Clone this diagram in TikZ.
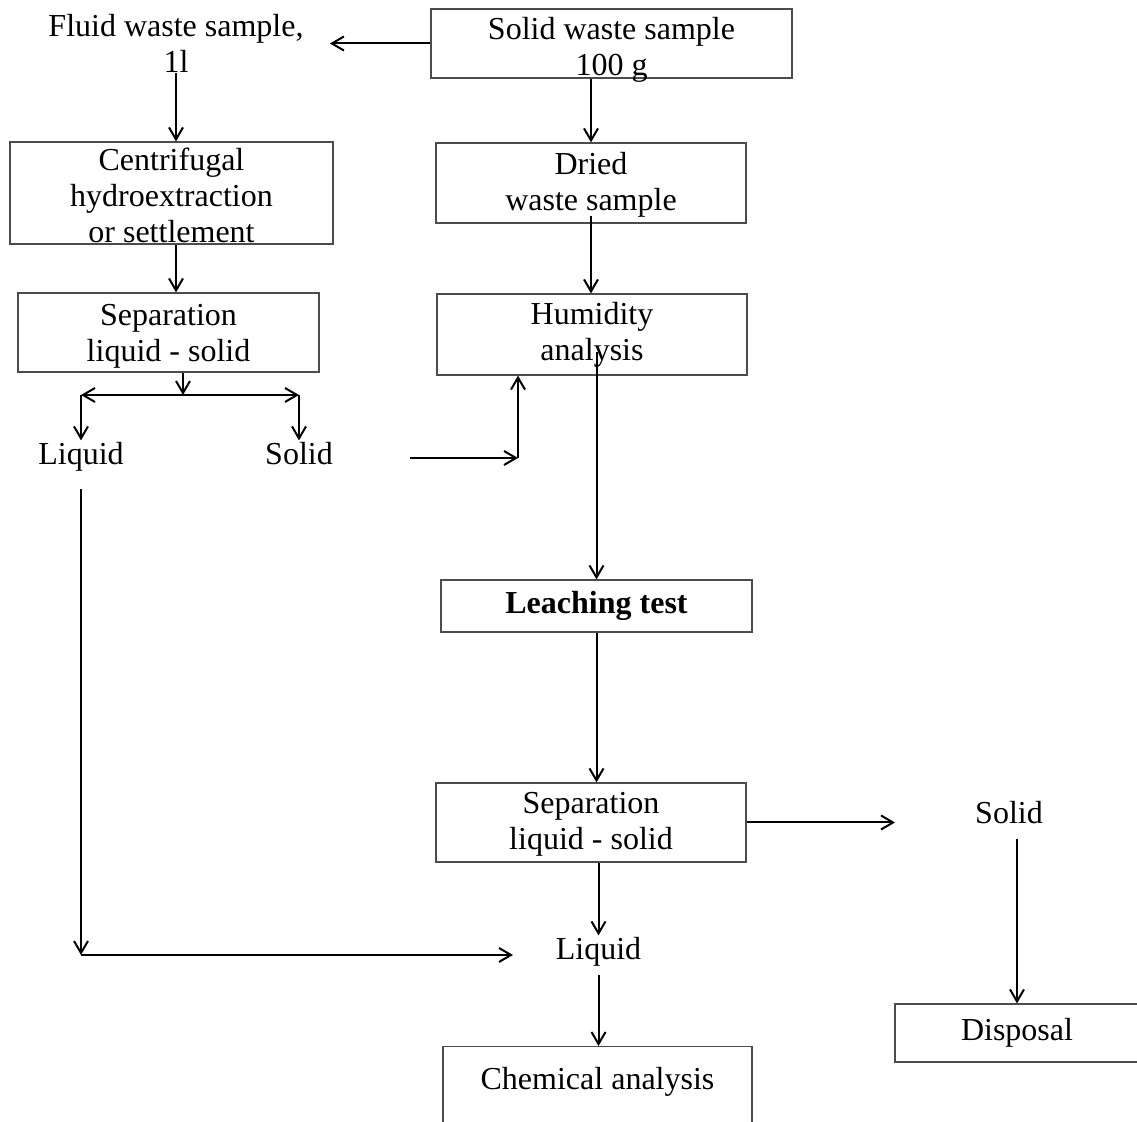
\documentclass[tikz,border=0pt]{standalone}
\usepackage{fontspec}
\setmainfont{Liberation Serif}
\usetikzlibrary{arrows.meta,calc}
\newcommand{\topgap}[1]{\rule{0pt}{#1}}

\begin{document}
\begin{tikzpicture}[x=0.5pt,y=-0.5pt,
  font=\fontsize{16}{18}\selectfont,
  box/.style={draw=black!70,line width=0.6pt,align=center,inner sep=0pt},
  word/.style={inner sep=1pt,anchor=base},
  arr/.style={line width=1pt,-{Straight Barb[length=6pt,width=7pt]}},
  twoarr/.style={line width=1pt,{Straight Barb[length=6pt,width=7pt]}-{Straight Barb[length=6pt,width=7pt]}}]
  \clip (0,0) rectangle (1137,1122);
  % left column: fluid sample
  \node[align=center,inner sep=0pt] (fluid) at (176,43.5) {Fluid waste sample,\\1l};
  \node[box,minimum width=161.5pt,minimum height=51pt] (centri) at (171.5,193) {\topgap{14pt}Centrifugal\\hydroextraction\\or settlement};
  \node[box,minimum width=150.5pt,minimum height=39.5pt] (sep1) at (168.5,332.5) {\topgap{14pt}Separation\\liquid - solid};
  \node[word] (liqA) at (81,465) {Liquid};
  \node[word] (solA) at (299,465) {Solid};
  % right column: solid sample
  \node[box,minimum width=180.5pt,minimum height=34.5pt,inner ysep=-3pt] (solid) at (611.5,43.5) {\topgap{17pt}Solid waste sample\\100 g};
  \node[box,minimum width=155pt,minimum height=40pt] (dried) at (591,183) {\topgap{13pt}Dried\\waste sample};
  \node[box,minimum width=155pt,minimum height=40.5pt] (humid) at (592,334.5) {Humidity\\analysis};
  \node[box,minimum width=155.5pt,minimum height=26pt] (leach) at (596.5,606) {\textbf{Leaching test}};
  \node[box,minimum width=155pt,minimum height=39.5pt] (sep2) at (591,822.5) {\topgap{12pt}Separation\\liquid - solid};
  \node[word] (liqB) at (598.5,960) {Liquid};
  \node[box,minimum width=154.5pt,minimum height=50pt,anchor=north] (chem) at (597.5,1046) {Chemical analysis\\\mbox{}};
  \node[word] (solB) at (1009,824) {Solid};
  \node[box,minimum width=122pt,minimum height=29pt] (disposal) at (1017,1033) {Disposal};
  % free ends
  \coordinate (fork) at (183,395);
  \coordinate (solout) at (410,458);
  \coordinate (bend) at (518,458);
  \coordinate (solin) at (895,825);
  \coordinate (liqin) at (513,955);
  % connectors
  \draw[arr] (solid.west) -- ([xshift=13pt]fluid.east);
  \draw[arr] (fluid.south) -- (fluid.south |- centri.north);
  \draw[arr] (centri.south -| fluid.south) -- (sep1.north -| fluid.south);
  \draw[arr] (sep1.south -| fork) -- (fork);
  \draw[twoarr] (fork -| liqA) -- (fork -| solA);
  \draw[arr] (fork -| liqA) -- (liqA.north);
  \draw[arr] (fork -| solA) -- (solA.north);
  \draw[arr] (solout) -- (bend);
  \draw[arr] (bend) -- (bend |- humid.south);
  \draw[arr] (dried.north |- solid.south) -- (dried.north);
  \draw[arr] ($(dried.south)+(0,-8)$) -- (dried.south |- humid.north);
  \draw[arr] ($(humid.south -| leach.north)+(0,-24)$) -- (leach.north);
  \draw[arr] (leach.south) -- (leach.south |- sep2.north);
  \draw[arr] (sep2.east) -- (sep2.east -| solin);
  \draw[arr] ($(solB.south -| disposal.north)+(0,12)$) -- (disposal.north);
  \draw[arr] (sep2.south -| liqB) -- (liqB.north);
  \draw[arr] ($(liqA.south)+(0,15)$) -- (liqA.south |- liqin);
  \draw[arr] (liqA.south |- liqin) -- (liqin);
  \draw[arr] ($(liqB.south)+(0,6)$) -- (liqB.south |- chem.north);
\end{tikzpicture}
\end{document}
